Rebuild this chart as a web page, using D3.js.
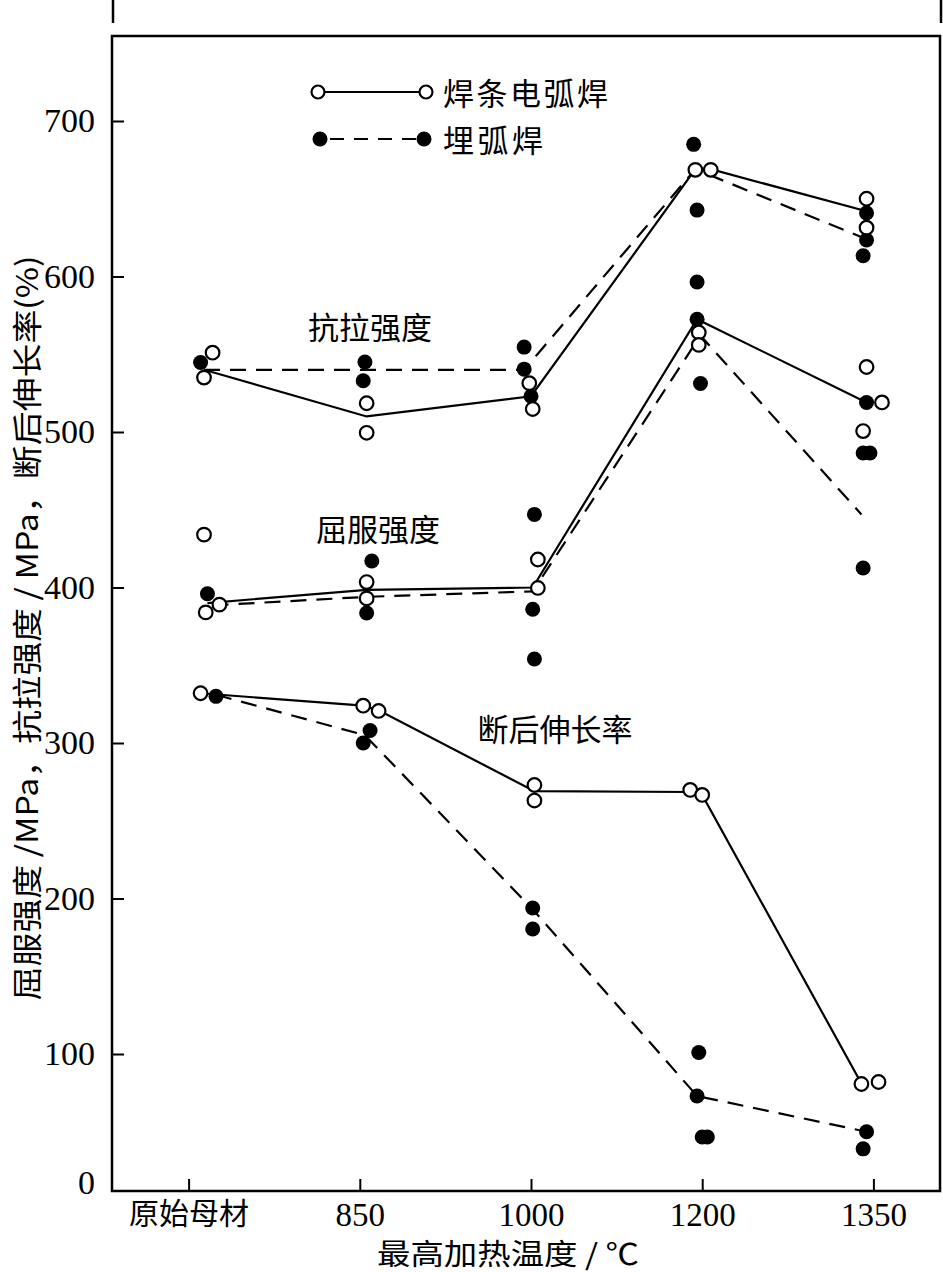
<!DOCTYPE html>
<html><head><meta charset="utf-8">
<script src="https://cdn.jsdelivr.net/npm/d3@7"></script>
<style>
html,body{margin:0;padding:0;background:#fff;}
svg{display:block;}
</style>
</head><body>
<svg id="chart" width="943" height="1272"></svg>
<script>
// ---------- data ----------
const categories = ["原始母材", "850", "1000", "1200", "1350"];
const yTickValues = [100, 200, 300, 400, 500, 600, 700];
const seriesNames = ["焊条电弧焊", "埋弧焊"];
const curveLabels = ["抗拉强度", "屈服强度", "断后伸长率"];
// x values are category positions (0 = 原始母材 … 4 = 1350) incl. small jitter

// 焊条电弧焊 (open circles, solid lines)
const arcTensileLine = [[0.09,540],[1.04,510],[2.0,523],[2.96,669],[3.05,669],[3.96,642]];
const arcYieldLine   = [[0.11,390],[1.04,398.5],[2.01,400],[2.97,572.5],[3.96,519]];
const arcElongLine   = [[0.07,332],[1.02,324],[1.11,321],[2.02,269],[2.93,268.5],[3.0,266.6],[3.93,81]];
const arcTensilePts  = [[0.14,551],[0.09,535],[1.04,518.5],[1.04,499.5],[1.99,531.4],[2.01,514.8],[2.96,668.6],[3.05,668.6],[3.96,650],[3.96,631.4]];
const arcYieldPts    = [[0.09,434],[0.18,389],[0.1,384],[1.04,403.5],[1.04,393],[2.04,418],[2.04,399.7],[2.98,564],[2.98,556],[3.96,541.8],[4.05,519],[3.94,500.6]];
const arcElongPts    = [[0.07,332],[1.02,324],[1.11,320.6],[2.02,273],[2.02,263],[2.93,269.8],[3.0,266.6],[3.93,80.7],[4.03,82]];

// 埋弧焊 (filled circles, dashed lines)
const subTensileLine = [[0.09,540],[1.03,540],[1.96,540],[2.96,669],[3.96,624]];
const subYieldLine   = [[0.14,388.5],[1.04,394],[2.01,397.5],[2.99,562],[3.93,447]];
const subElongLine   = [[0.16,331],[1.03,305],[2.01,193],[2.97,73],[3.96,50]];
const subTensilePts  = [[0.07,544.7],[1.03,545],[1.02,533],[1.96,554.6],[1.96,540.4],[2.0,523],[2.95,685],[2.97,642.7],[3.96,640.8],[3.96,623.5],[3.94,613.3]];
const subYieldPts    = [[0.11,396],[1.07,417],[1.04,383.6],[2.02,447],[2.01,386],[2.02,354],[2.97,596.5],[2.97,572.5],[2.99,531.2],[3.96,519],[3.94,486.5],[3.98,486.5],[3.94,412.5]];
const subElongPts    = [[0.16,330],[1.06,308],[1.02,300],[2.01,193.9],[2.01,180.4],[2.98,101],[2.97,73],[3.0,46.6],[3.03,46.6],[3.96,50],[3.94,39]];

// ---------- layout ----------
const frame = {left: 112, top: 36, right: 940, bottom: 1191};
const svg = d3.select("#chart");
const numFont = "'Liberation Serif','Noto Sans CJK SC',serif";
const cjkFont = "'Noto Sans CJK SC','Liberation Serif',sans-serif";

const x = d3.scaleLinear().domain([0, 4]).range([188.6, 873.4]);
const y = d3.scaleLinear().domain([0, 700]).range([1209.5, 121]);

// crop artefacts at top
svg.append("line").attr("x1",113).attr("x2",113).attr("y1",0).attr("y2",23).attr("stroke","#000").attr("stroke-width",2.5);
svg.append("line").attr("x1",941).attr("x2",941).attr("y1",0).attr("y2",23).attr("stroke","#000").attr("stroke-width",2.5);

// frame
svg.append("rect")
  .attr("x", frame.left).attr("y", frame.top)
  .attr("width", frame.right - frame.left).attr("height", frame.bottom - frame.top)
  .attr("fill", "none").attr("stroke", "#000").attr("stroke-width", 2.5);

// y axis
const yAxis = d3.axisLeft(y).tickValues(yTickValues).tickSize(-12).tickPadding(17).tickFormat(d3.format("d"));
const gy = svg.append("g").attr("transform", `translate(${frame.left},0)`).call(yAxis);
gy.select(".domain").remove();
gy.selectAll(".tick line").attr("stroke", "#000").attr("stroke-width", 2);
gy.selectAll(".tick text").attr("font-family", numFont).attr("font-size", 34).attr("fill", "#000");
// "0" label sits at the bottom of the (broken) axis
svg.append("text").attr("x", frame.left - 17).attr("y", frame.bottom - 8)
  .attr("text-anchor", "end").attr("dy", "0.32em")
  .attr("font-family", numFont).attr("font-size", 34).text("0");

// x axis
const xAxis = d3.axisBottom(x).tickValues(d3.range(categories.length)).tickSize(-12).tickPadding(12)
  .tickFormat(i => categories[i]);
const gx = svg.append("g").attr("transform", `translate(0,${frame.bottom})`).call(xAxis);
gx.select(".domain").remove();
gx.selectAll(".tick line").attr("stroke", "#000").attr("stroke-width", 2);
gx.selectAll(".tick text").attr("fill", "#000")
  .attr("font-family", (d) => d === 0 ? cjkFont : numFont)
  .attr("font-size", (d) => d === 0 ? 30 : 33);

// axis titles
svg.append("text").attr("x", 508).attr("y", 1255).attr("dy", "0.35em")
  .attr("text-anchor", "middle").attr("font-family", cjkFont).attr("font-size", 29)
  .attr("textLength", 262).attr("lengthAdjust", "spacingAndGlyphs")
  .text("最高加热温度 / ℃");
svg.append("text").attr("transform", "translate(27,628) rotate(-90)").attr("dy", "0.35em")
  .attr("text-anchor", "middle").attr("font-family", cjkFont).attr("font-size", 30)
  .attr("textLength", 745).attr("lengthAdjust", "spacingAndGlyphs")
  .text("屈服强度 /MPa，抗拉强度 / MPa，断后伸长率(%)");

// lines
const line = d3.line().x(d => x(d[0])).y(d => y(d[1]));
const solidLines = [arcTensileLine, arcYieldLine, arcElongLine];
const dashedLines = [subTensileLine, subYieldLine, subElongLine];
svg.append("g").selectAll("path").data(dashedLines).join("path")
  .attr("d", line).attr("fill", "none").attr("stroke", "#000")
  .attr("stroke-width", 2.2).attr("stroke-dasharray", "16,10");
svg.append("g").selectAll("path").data(solidLines).join("path")
  .attr("d", line).attr("fill", "none").attr("stroke", "#000").attr("stroke-width", 2.2);

// markers
const openPts = [].concat(arcTensilePts, arcYieldPts, arcElongPts);
const filledPts = [].concat(subTensilePts, subYieldPts, subElongPts);
svg.append("g").selectAll("circle").data(filledPts).join("circle")
  .attr("cx", d => x(d[0])).attr("cy", d => y(d[1])).attr("r", 7.5).attr("fill", "#000");
svg.append("g").selectAll("circle").data(openPts).join("circle")
  .attr("cx", d => x(d[0])).attr("cy", d => y(d[1])).attr("r", 6.8)
  .attr("fill", "#fff").attr("stroke", "#000").attr("stroke-width", 2.2);

// curve labels
const labelPos = [[370, 328], [378, 530], [555, 730]];
svg.append("g").selectAll("text").data(curveLabels).join("text")
  .attr("x", (d, i) => labelPos[i][0]).attr("y", (d, i) => labelPos[i][1]).attr("dy", "0.35em")
  .attr("text-anchor", "middle").attr("font-family", cjkFont).attr("font-size", 31)
  .text(d => d);

// legend
const lg = svg.append("g");
// solid / open
lg.append("line").attr("x1", 318).attr("x2", 426).attr("y1", 92).attr("y2", 92).attr("stroke", "#000").attr("stroke-width", 2.2);
[318, 426].forEach(cx => lg.append("circle").attr("cx", cx).attr("cy", 92).attr("r", 6.5)
  .attr("fill", "#fff").attr("stroke", "#000").attr("stroke-width", 2.2));
// dashed / filled
lg.append("line").attr("x1", 320).attr("x2", 424).attr("y1", 139).attr("y2", 139).attr("stroke", "#000")
  .attr("stroke-width", 2.2).attr("stroke-dasharray", "14,10").attr("stroke-dashoffset", -10);
[320, 424].forEach(cx => lg.append("circle").attr("cx", cx).attr("cy", 139).attr("r", 7.5).attr("fill", "#000"));
lg.append("text").attr("x", 443).attr("y", 94).attr("dy", "0.35em").attr("font-family", cjkFont)
  .attr("font-size", 31).attr("textLength", 165).attr("lengthAdjust", "spacing").text(seriesNames[0]);
lg.append("text").attr("x", 443).attr("y", 141).attr("dy", "0.35em").attr("font-family", cjkFont)
  .attr("font-size", 31).attr("textLength", 100).attr("lengthAdjust", "spacing").text(seriesNames[1]);
</script>
</body></html>
